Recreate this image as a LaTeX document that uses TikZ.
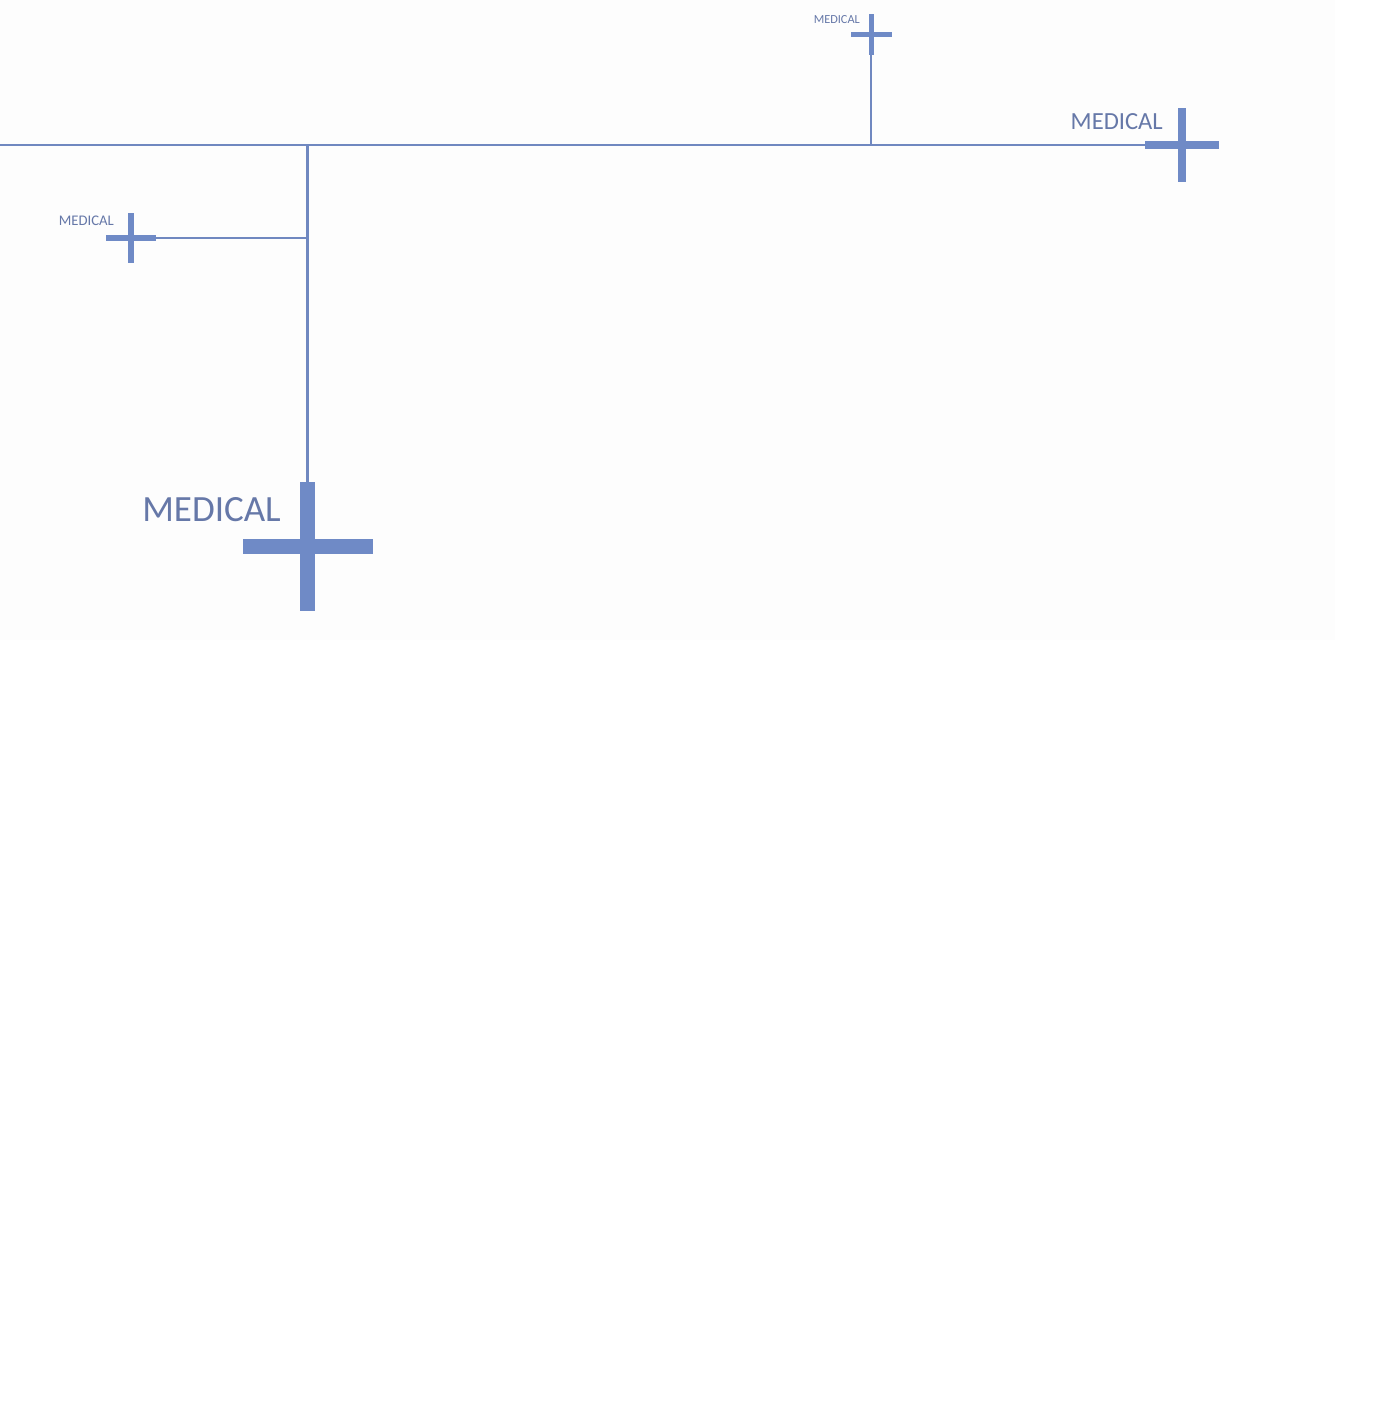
\documentclass[tikz,border=0pt]{standalone}
\usepackage{fontspec}
\setmainfont{Carlito}
\definecolor{crossblue}{HTML}{6F8AC6}
\definecolor{lineblue}{HTML}{7088C0}
\definecolor{textblue}{HTML}{6678A8}
\definecolor{faint}{HTML}{FDFDFD}
\begin{document}
\begin{tikzpicture}[x=1pt,y=-1pt,
  label/.style={text=textblue,inner sep=0pt,anchor=base east},
  conn/.style={draw=lineblue}]
\useasboundingbox (0,0) rectangle (1383,1411);
\fill[faint] (0,0) rectangle (1335,640);
% cross centres
\coordinate (ct) at (871,34.5);
\coordinate (cr) at (1182,145);
\coordinate (cl) at (131,238);
\coordinate (cb) at (307.5,546.5);
\coordinate (j1) at (307.5,145);
\coordinate (j2) at (871,145);
\coordinate (j3) at (307.5,238);
\coordinate (start) at (0,145);
\coordinate (ctb) at (871,55);
\coordinate (crl) at (1145,145);
\coordinate (clr) at (156,238);
\coordinate (cbt) at (307.5,482);
% connectors
\draw[conn,line width=2pt] (start) -- (crl);
\draw[conn,line width=2pt] (j2) -- (ctb);
\draw[conn,line width=3pt] (j1) -- (cbt);
\draw[conn,line width=1.6pt] (j3) -- (clr);
% crosses
\fill[crossblue] (868.5,14) rectangle (873.5,55);
\fill[crossblue] (851,32) rectangle (892,37);
\fill[crossblue] (1178,108) rectangle (1186,182);
\fill[crossblue] (1145,141) rectangle (1219,149);
\fill[crossblue] (128,213) rectangle (134,263);
\fill[crossblue] (106,235) rectangle (156,241);
\fill[crossblue] (300,482) rectangle (315,611);
\fill[crossblue] (243,539) rectangle (373,554);
% labels
\node[label,font=\fontsize{12.3}{14}\selectfont] (lt) at (860,23.5) {MEDICAL};
\node[label,font=\fontsize{24.6}{28}\selectfont] (lr) at (1163,129.5) {MEDICAL};
\node[label,font=\fontsize{14.7}{17}\selectfont] (ll) at (114,225) {MEDICAL};
\node[label,font=\fontsize{37}{42}\selectfont] (lb) at (281,521.5) {MEDICAL};
\end{tikzpicture}
\end{document}
